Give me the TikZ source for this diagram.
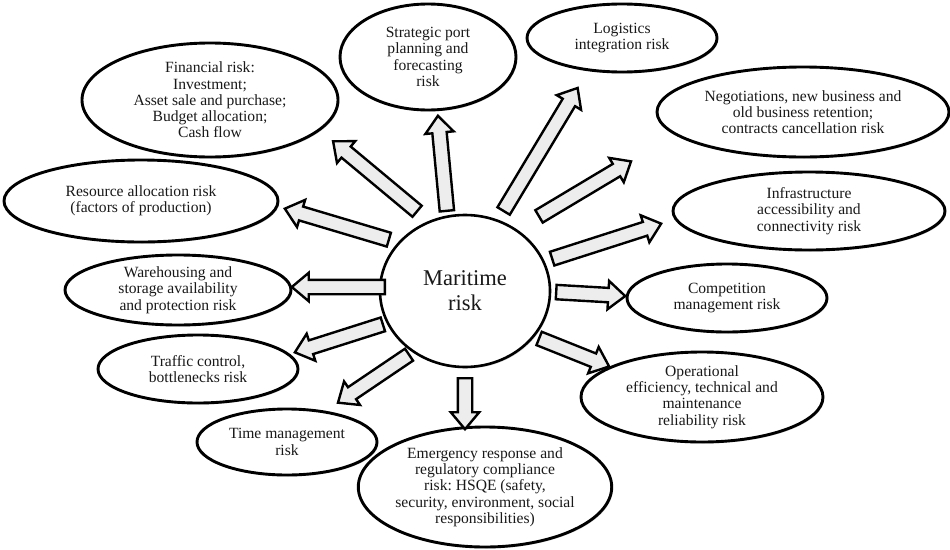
\documentclass[tikz,border=0pt]{standalone}
\usepackage{fontspec}
\setmainfont{Liberation Serif}
\frenchspacing
\usetikzlibrary{shapes.geometric,shapes.arrows,calc,shadows}

\tikzset{
  risk/.style={ellipse, draw=black, line width=2.9pt, fill=white, inner sep=0pt,
    align=center, text=black!90, font=\fontsize{15.6}{16.3}\selectfont,
    drop shadow={shadow xshift=1.2pt, shadow yshift=-1.5pt, opacity=0.18, fill=black}},
  hub/.style={risk, line width=2.6pt, font=\fontsize{22.5}{25}\selectfont},
  blk/.style={single arrow, draw=black, line width=2.4pt, fill=black!7,
    inner xsep=0pt, inner ysep=6pt, single arrow head extend=7pt,
    single arrow tip angle=80, single arrow head indent=0pt, anchor=tail}
}

% block arrow from #1 (tail) to #2 (tip), node named #3
\newcommand\blkarrow[3]{%
  \path let \p1=(#1), \p2=(#2),
    \n1={atan2(\y2-\y1,\x2-\x1)}, \n2={veclen(\x2-\x1,\y2-\y1)} in
    node[blk, minimum height=\n2, rotate=\n1] (#3) at (\p1) {};}

\begin{document}
\begin{tikzpicture}[x=1pt,y=-1pt]
\useasboundingbox (0,0) rectangle (950,549);

% central hub
\node[hub, minimum width=170pt, minimum height=152pt] (hub) at (465,291) {Maritime\\risk};

% surrounding risks
\node[risk, minimum width=256pt, minimum height=114pt] (fin) at (210,100)
  {Financial risk:\\Investment;\\Asset sale and purchase;\\Budget allocation;\\Cash flow};
\node[risk, minimum width=176pt, minimum height=106pt] (strat) at (428,57)
  {Strategic port\\planning and\\forecasting\\risk};
\node[risk, minimum width=190pt, minimum height=68pt] (logi) at (622,38)
  {Logistics\\integration risk};
\node[risk, minimum width=292pt, minimum height=90pt] (nego) at (803,112)
  {Negotiations, new business and\\old business retention;\\contracts cancellation risk};
\node[risk, minimum width=272pt, minimum height=78pt] (infra) at (809,211)
  {Infrastructure\\accessibility and\\connectivity risk};
\node[risk, minimum width=200pt, minimum height=68pt] (comp) at (727,298)
  {Competition\\management risk};
\node[risk, minimum width=242pt, minimum height=90pt] (oper) at (702,397)
  {Operational\\efficiency, technical and\\maintenance\\reliability risk};
\node[risk, minimum width=226pt, minimum height=120pt] (emer) at (485,487)
  {Emergency response and\\regulatory compliance\\risk: HSQE (safety,\\security, environment, social\\responsibilities)};
\node[risk, minimum width=180pt, minimum height=66pt] (time) at (287,442)
  {Time management\\risk};
\node[risk, minimum width=200pt, minimum height=68pt] (traf) at (198,369)
  {Traffic control,\\bottlenecks risk};
\node[risk, minimum width=226pt, minimum height=70pt] (ware) at (178,290)
  {Warehousing and\\storage availability\\and protection risk};
\node[risk, minimum width=274pt, minimum height=82pt] (res) at (141,201)
  {Resource allocation risk\\(factors of production)};

% arrow tails and tips
\coordinate (t1) at (418,212);  \coordinate (h1) at (334,142);
\coordinate (t2) at (447,212);  \coordinate (h2) at (438,117);
\coordinate (t3) at (503,212);  \coordinate (h3) at (577,89);
\coordinate (t4) at (538,217);  \coordinate (h4) at (630,162);
\coordinate (t5) at (551,259);  \coordinate (h5) at (660,224);
\coordinate (t6) at (555,292);  \coordinate (h6) at (624,296);
\coordinate (t7) at (538,338);  \coordinate (h7) at (608,366);
\coordinate (t8) at (465,377);  \coordinate (h8) at (465,428);
\coordinate (t9) at (410,354);  \coordinate (h9) at (339,402);
\coordinate (t10) at (384,324); \coordinate (h10) at (296,352);
\coordinate (t11) at (386,287); \coordinate (h11) at (293,287);
\coordinate (t12) at (390,240); \coordinate (h12) at (286,209);

\blkarrow{t1}{h1}{a1}
\blkarrow{t2}{h2}{a2}
\blkarrow{t3}{h3}{a3}
\blkarrow{t4}{h4}{a4}
\blkarrow{t5}{h5}{a5}
\blkarrow{t6}{h6}{a6}
\blkarrow{t7}{h7}{a7}
\blkarrow{t8}{h8}{a8}
\blkarrow{t9}{h9}{a9}
\blkarrow{t10}{h10}{a10}
\blkarrow{t11}{h11}{a11}
\blkarrow{t12}{h12}{a12}
\end{tikzpicture}
\end{document}
